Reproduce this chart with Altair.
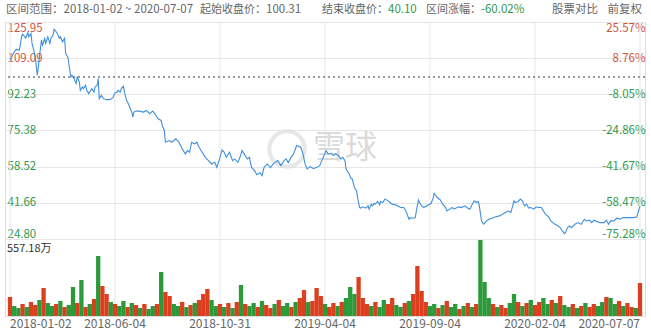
import json
import altair as alt
import pandas as pd

# ---------------- data ----------------
days = [0, 4, 6, 9, 11, 12, 15, 17, 18, 20, 21, 23, 24, 26, 27, 28, 30, 31, 33, 34,
        36, 38, 39, 41, 42, 44, 45, 47, 48, 50, 52, 53, 55, 56, 57, 58, 59, 61, 63, 64,
        66, 67, 69, 70, 72, 73, 75, 77, 78, 80, 81, 83, 84, 85, 87, 89, 92, 95, 98, 100,
        102, 103, 105, 106, 108, 109, 111, 112, 114, 116, 117, 118, 120, 123, 127, 130, 133, 136, 138, 141,
        144, 145, 147, 148, 152, 154, 158, 161, 164, 167, 169, 171, 173, 176, 178, 180, 183, 186, 189, 192,
        195, 197, 200, 202, 204, 206, 209, 212, 214, 217, 219, 221, 223, 226, 228, 230, 233, 235, 238, 240,
        242, 245, 248, 251, 255, 258, 261, 263, 265, 267, 270, 273, 277, 279, 281, 283, 286, 289, 292, 295,
        297, 299, 301, 303, 306, 308, 310, 313, 315, 317, 319, 320, 323, 325, 326, 328, 330, 331, 333, 334,
        336, 339, 341, 342, 344, 345, 347, 348, 350, 352, 353, 355, 357, 359, 362, 364, 367, 369, 372, 375,
        377, 380, 381, 384, 386, 387, 389, 390, 392, 394, 397, 401, 403, 404, 407, 410, 412, 415, 416, 419,
        421, 423, 427, 430, 433, 435, 438, 440, 442, 444, 446, 447, 449, 451, 454, 456, 459, 462, 466, 469,
        472, 475, 477, 480, 481, 484, 486, 488, 490, 492, 494, 496, 499, 501, 503, 506, 508, 510, 513, 515,
        517, 519, 522, 524, 526, 528, 529, 531, 533, 535, 538, 541, 544, 547, 549, 552, 554, 556, 559, 562,
        566, 568, 570, 572, 575, 578, 581, 584, 588, 591, 594, 597, 600]
prices = [108.16, 112.04, 113.17, 112.84, 119.07, 120.33, 118.46, 120.94, 119.07, 120.66, 115.98, 112.04, 109.70, 101.13, 105.02, 109.70, 117.52, 115.18, 118.32, 115.98,
          119.07, 115.98, 118.32, 119.86, 122.53, 121.41, 120.66, 118.32, 119.07, 116.72, 118.32, 111.29, 109.70, 106.61, 103.47, 100.33, 101.13, 99.59, 97.24, 100.33,
          97.99, 94.11, 95.65, 94.90, 96.45, 94.11, 92.56, 94.11, 94.90, 93.31, 95.65, 96.45, 99.59, 90.22, 91.77, 90.22, 89.75, 89.75, 90.69, 92.84,
          93.31, 94.11, 93.31, 94.90, 95.98, 93.31, 89.42, 88.63, 86.29, 83.95, 81.60, 83.95, 84.41, 84.41, 83.95, 84.74, 83.20, 84.41, 83.20, 80.85,
          80.06, 77.72, 75.38, 69.90, 70.69, 69.90, 71.49, 69.90, 66.81, 64.46, 66.01, 65.21, 69.90, 69.15, 69.90, 67.55, 65.21, 62.87, 61.33, 59.78,
          60.53, 58.19, 62.87, 66.34, 65.21, 62.87, 65.21, 61.33, 62.12, 60.53, 62.87, 66.01, 64.46, 62.12, 62.87, 58.19, 56.64, 54.77, 55.71, 54.30,
          58.19, 59.78, 58.05, 59.92, 61.33, 58.99, 61.33, 62.12, 60.39, 62.26, 64.46, 68.35, 67.56, 64.46, 59.78, 57.44, 58.52, 57.58, 58.19, 58.99,
          61.33, 63.67, 66.01, 64.46, 64.75, 63.67, 64.46, 63.67, 62.12, 62.87, 61.33, 57.44, 55.10, 52.76, 52.76, 48.82, 47.28, 44.14, 39.46, 39.18,
          39.79, 39.18, 40.25, 38.71, 41.05, 40.25, 41.33, 41.05, 42.27, 40.72, 42.27, 41.80, 43.39, 42.92, 41.80, 41.05, 40.72, 40.25, 39.46, 39.46,
          37.91, 34.02, 34.77, 34.49, 34.77, 37.91, 42.92, 41.80, 40.25, 39.46, 40.25, 41.33, 43.86, 46.01, 44.14, 42.92, 41.05, 39.46, 37.91, 38.71,
          39.46, 38.71, 39.79, 39.46, 40.25, 39.46, 38.71, 40.72, 42.60, 41.80, 42.27, 40.25, 33.23, 31.69, 33.23, 34.02, 34.49, 35.10, 35.57, 36.37,
          37.12, 37.91, 37.12, 42.60, 41.80, 42.27, 43.39, 42.60, 40.25, 41.05, 39.18, 39.46, 38.71, 39.79, 39.46, 39.46, 37.91, 36.37, 35.10, 33.23,
          32.43, 31.69, 30.89, 30.09, 28.55, 27.28, 27.75, 30.09, 30.89, 30.09, 31.69, 32.43, 31.69, 34.02, 33.23, 33.55, 32.43, 33.55, 32.90, 32.43,
          32.43, 33.55, 31.69, 33.23, 33.23, 34.49, 34.02, 34.77, 34.77, 34.77, 34.77, 35.10, 40.10]

vol_days = list(range(0, 601, 4))
volumes = [139.3, 73.3, 58.6, 88.0, 66.0, 102.6, 80.6, 117.3, 205.3, 95.3,
           73.3, 88.0, 110.0, 66.0, 80.6, 212.6, 95.3, 263.9, 66.0, 88.0,
           124.6, 439.9, 219.9, 161.3, 102.6, 88.0, 73.3, 110.0, 66.0, 95.3,
           80.6, 58.6, 88.0, 51.3, 73.3, 88.0, 322.6, 175.9, 146.6, 88.0,
           73.3, 102.6, 66.0, 80.6, 95.3, 117.3, 161.3, 197.9, 117.3, 73.3,
           88.0, 66.0, 95.3, 58.6, 102.6, 227.3, 88.0, 73.3, 95.3, 66.0,
           110.0, 80.6, 58.6, 88.0, 117.3, 73.3, 95.3, 66.0, 102.6, 132.0,
           190.6, 102.6, 110.0, 205.3, 146.6, 88.0, 66.0, 95.3, 73.3, 102.6,
           132.0, 212.6, 161.3, 285.9, 132.0, 88.0, 73.3, 102.6, 66.0, 117.3,
           88.0, 132.0, 80.6, 66.0, 95.3, 110.0, 161.3, 366.6, 183.3, 102.6,
           73.3, 88.0, 58.6, 80.6, 110.0, 66.0, 88.0, 51.3, 73.3, 95.3,
           66.0, 88.0, 557.18, 249.3, 132.0, 88.0, 66.0, 80.6, 58.6, 95.3,
           161.3, 102.6, 73.3, 95.3, 117.3, 80.6, 102.6, 132.0, 88.0, 117.3,
           95.3, 146.6, 80.6, 66.0, 88.0, 58.6, 73.3, 95.3, 66.0, 88.0,
           73.3, 102.6, 139.3, 132.0, 88.0, 110.0, 73.3, 95.3, 66.0, 58.6,
           241.9]
vol_dir_codes = ("uddudu udud" "dudu ddudud" "uduudu ddud" "ududdu duud" "dudu duuudd"
                 "udud udu ddu" "duud uddudu" "uduu uduu dud" "dduu udu ddu" "uddudu uuud"
                 "dudu dd udud" "uddd udu udd" "udud uudd ud" "udd ud udu ud" "dudd udu udu" "u")
vol_dir = ["up" if c == "u" else "down" for c in vol_dir_codes.replace(" ", "")]

x_tick_days = [0, 100, 200, 300, 400, 500, 600]
x_tick_labels = ["2018-01-02", "2018-06-04", "2018-10-31", "2019-04-04",
                 "2019-09-04", "2020-02-04", "2020-07-07"]
y_ticks = [125.95, 109.09, 92.23, 75.38, 58.52, 41.66, 24.80]
pct_labels = ["25.57%", "8.76%", "-8.05%", "-24.86%", "-41.67%", "-58.47%", "-75.28%"]
start_price = 100.31
end_price = 40.10
change_pct = "-60.02%"
vol_max = 557.18
date_from, date_to = "2018-01-02", "2020-07-07"

# ---------------- styling ----------------
FONT = "Noto Sans CJK SC"
RED_TXT = "#cf553c"
GREEN_TXT = "#2f9a4d"
GREY_TXT = "#666666"
LINE_C = "#3f8fde"
GRID = "#e6e6e6"
UP_C = "#db3f1e"
DOWN_C = "#2a9a3a"

W, H = 640, 294
PRICE_BOTTOM = 217
VOL_TOP, VOL_BOTTOM = 218, 294

price_df = pd.DataFrame({"day": days, "price": prices})
n = min(len(vol_days), len(volumes), len(vol_dir))
vol_df = pd.DataFrame({"day": vol_days[:n], "vol": volumes[:n], "dir": vol_dir[:n]})
xt_df = pd.DataFrame({"day": x_tick_days, "label": x_tick_labels})
one = pd.DataFrame({"a": [0]})

xscale = alt.Scale(domain=[0, 600], nice=False, zero=False)
X = alt.X("day:Q", scale=xscale, axis=None)
yscale = alt.Scale(domain=[y_ticks[-1], y_ticks[0]], range=[PRICE_BOTTOM, 0], nice=False, zero=False)
label_color = {"condition": {"test": f"datum.value > {start_price}", "value": RED_TXT}, "value": GREEN_TXT}

# vertical grid lines and date labels (drawn through the x scale)
xgrid = alt.Chart(xt_df).mark_rule(color=GRID, strokeWidth=1).encode(
    x=X, y=alt.value(0), y2=alt.value(H))


def xlabels(df, align):
    return alt.Chart(df).mark_text(align=align, baseline="top", fontSize=12, font=FONT,
                                   color=GREY_TXT).encode(x=X, y=alt.value(H + 3), text="label:N")


xl_first = xlabels(xt_df.iloc[:1], "left")
xl_mid = xlabels(xt_df.iloc[1:-1], "center")
xl_last = xlabels(xt_df.iloc[-1:], "right")

line = alt.Chart(price_df).mark_line(color=LINE_C, strokeWidth=1.1).encode(
    x=X,
    y=alt.Y("price:Q", scale=yscale,
            axis=alt.Axis(orient="left", values=y_ticks, format=".2f", labelAlign="left",
                          labelPadding=-2, ticks=False, tickSize=0, domain=False, grid=True,
                          gridColor=GRID, labelFlush=True, labelFontSize=11.5, labelFont=FONT,
                          labelColor=label_color, title=None)),
)
right = alt.Chart(price_df).mark_line(opacity=0).encode(
    x=X,
    y=alt.Y("price:Q", scale=yscale,
            axis=alt.Axis(orient="right", values=y_ticks,
                          labelExpr=f"{json.dumps(pct_labels)}[indexof({json.dumps(y_ticks)}, datum.value)]",
                          labelAlign="right", labelPadding=0, ticks=False, tickSize=0, domain=False,
                          grid=False, labelFlush=True, labelFontSize=11.5, labelFont=FONT,
                          labelColor=label_color, title=None)),
)
rule = alt.Chart(pd.DataFrame({"p": [start_price]})).mark_rule(
    color="#333333", strokeDash=[2, 3], strokeWidth=1).encode(
    y=alt.Y("p:Q", scale=yscale, axis=None))

price_layer = alt.layer(line, rule, right).resolve_axis(y="independent")

bars = alt.Chart(vol_df).mark_bar(size=4.3).encode(
    x=X,
    y=alt.Y("vol:Q", scale=alt.Scale(domain=[0, vol_max], range=[VOL_BOTTOM, VOL_TOP], nice=False, zero=True), axis=None),
    color=alt.Color("dir:N", scale=alt.Scale(domain=["up", "down"], range=[UP_C, DOWN_C]), legend=None),
)


def txt(text, x, y, color, size=11, align="left", **kw):
    return alt.Chart(one).mark_text(text=text, align=align, baseline="middle", fontSize=size,
                                    font=FONT, color=color, **kw).encode(
        x=alt.value(x), y=alt.value(y))


wm_circle = alt.Chart(one).mark_point(shape="circle", filled=False, size=1250, strokeWidth=4,
                                      color="#dedede").encode(x=alt.value(282), y=alt.value(127))
wm_text = txt("雪球", 308, 126, "#dadada", size=32)

HY = -12
header = [
    txt(f"区间范围：{date_from} ~ {date_to}", 1, HY, GREY_TXT, size=11.5),
    txt("起始收盘价：", 261, HY, GREY_TXT, align="right"),
    txt(f"{start_price:.2f}", 261, HY, GREY_TXT, size=11.5),
    txt("结束收盘价：", 383, HY, GREY_TXT, align="right"),
    txt(f"{end_price:.2f}", 383, HY, GREEN_TXT, size=11.5),
    txt("区间涨幅：", 476, HY, GREY_TXT, align="right"),
    txt(change_pct, 476, HY, GREEN_TXT, size=11.5),
    txt("股票对比", 547, HY, GREY_TXT, size=11.5),
    txt("前复权", 637, HY, GREY_TXT, size=11.5, align="right"),
]
vol_label = txt(f"{vol_max:.2f}万", 2, 227, "#333333", size=11)

chart = alt.layer(xgrid, wm_circle, wm_text, bars, price_layer, xl_first, xl_mid, xl_last,
                  vol_label, *header).resolve_scale(
    y="independent").properties(
    width=W, height=H,
    padding={"left": 5, "top": 22, "right": 6, "bottom": 16},
    autosize=alt.AutoSizeParams(type="none"),
).configure_view(stroke=None).configure(font=FONT)

chart.save("out.html", embed_options={"renderer": "svg", "actions": False})
